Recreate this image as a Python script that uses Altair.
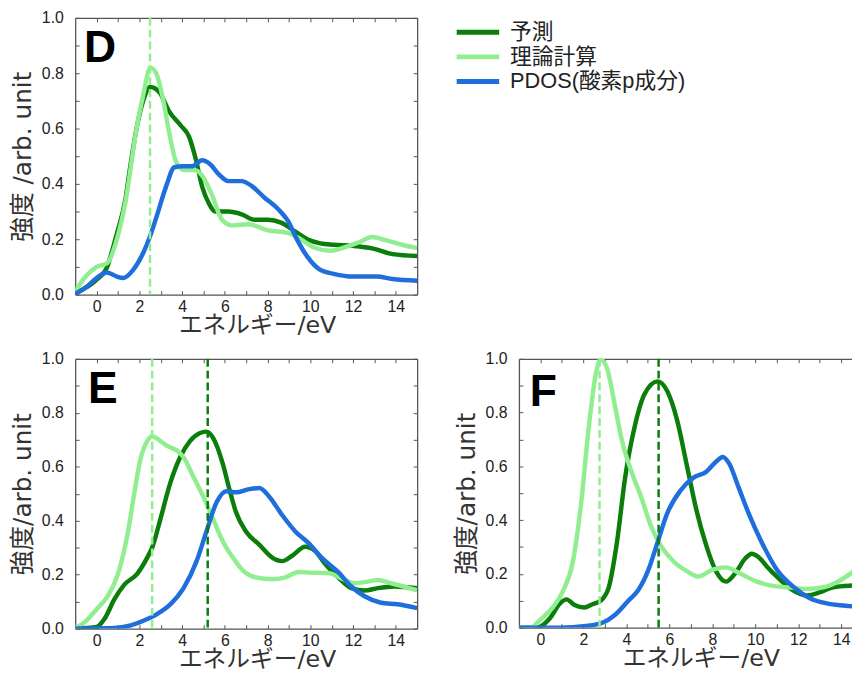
import altair as alt
import pandas as pd

SERIES = ["予測", "理論計算", "PDOS(酸素p成分)"]
COLORS = ["#0a7d0a", "#90ee90", "#1e6fdc"]
X_TITLE = "エネルギー/eV"
PANEL_LETTERS = ["D", "E", "F"]
Y_TITLES = ["強度 /arb. unit", "強度/arb. unit", "強度/arb. unit"]

# ---------- Panel D ----------
D_pred_x = [-1, 0, 0.5, 0.65, 0.95, 1.34, 1.57, 1.87, 2.18, 2.52, 2.95, 3.41, 3.95, 4.33, 4.64, 4.94, 5.25, 5.56, 6.17, 6.79, 7.4, 8.02, 8.63, 9.25, 9.86, 10.47, 11.09, 12.0, 12.9, 13.85, 15]
D_pred_y = [0.005, 0.054, 0.10, 0.137, 0.22, 0.34, 0.46, 0.60, 0.70, 0.75, 0.73, 0.66, 0.61, 0.57, 0.49, 0.39, 0.33, 0.30, 0.30, 0.29, 0.27, 0.27, 0.26, 0.23, 0.20, 0.185, 0.18, 0.176, 0.167, 0.146, 0.139]
D_theo_x = [-1, -0.51, 0, 0.49, 0.95, 1.34, 1.87, 2.18, 2.52, 2.79, 3.1, 3.41, 3.72, 4.1, 4.56, 4.94, 5.4, 5.87, 6.33, 7.1, 8.02, 8.94, 9.55, 10.17, 10.94, 11.7, 12.3, 12.9, 13.55, 14.3, 15]
D_theo_y = [0.012, 0.065, 0.10, 0.113, 0.20, 0.33, 0.60, 0.72, 0.82, 0.80, 0.71, 0.58, 0.48, 0.45, 0.45, 0.43, 0.36, 0.27, 0.25, 0.254, 0.232, 0.223, 0.20, 0.17, 0.158, 0.173, 0.19, 0.208, 0.196, 0.18, 0.168]
D_pdos_x = [-1, -0.43, 0, 0.49, 0.95, 1.26, 1.72, 2.18, 2.52, 2.8, 3.25, 3.64, 4.02, 4.48, 4.94, 5.33, 5.71, 6.17, 6.79, 7.25, 7.86, 8.48, 8.94, 9.4, 9.86, 10.47, 11.09, 12.0, 13.1, 13.85, 15]
D_pdos_y = [0.002, 0.03, 0.06, 0.08, 0.065, 0.06, 0.09, 0.15, 0.214, 0.28, 0.39, 0.46, 0.464, 0.464, 0.485, 0.47, 0.435, 0.41, 0.41, 0.393, 0.35, 0.31, 0.268, 0.196, 0.137, 0.089, 0.075, 0.065, 0.065, 0.056, 0.05]
D_rule_x = [2.5]
D_rule_s = ["理論計算"]

# ---------- Panel E ----------
E_pred_x = [-1, 0, 0.37, 0.83, 1.29, 1.91, 2.37, 2.6, 2.99, 3.45, 3.91, 4.37, 4.84, 5.14, 5.45, 5.91, 6.22, 6.53, 6.99, 7.61, 8.22, 8.69, 9.15, 9.76, 10.23, 10.69, 11.3, 11.92, 12.54, 13.15, 13.92, 15]
E_pred_y = [0.0, 0.006, 0.036, 0.108, 0.162, 0.204, 0.263, 0.30, 0.407, 0.54, 0.635, 0.695, 0.725, 0.73, 0.707, 0.61, 0.515, 0.43, 0.36, 0.311, 0.263, 0.25, 0.27, 0.303, 0.287, 0.24, 0.19, 0.15, 0.141, 0.15, 0.156, 0.15]
E_theo_x = [-1, -0.55, 0, 0.52, 0.99, 1.45, 1.76, 2.06, 2.37, 2.6, 2.99, 3.3, 3.76, 4.07, 4.53, 4.99, 5.45, 5.91, 6.38, 6.84, 7.45, 8.22, 8.84, 9.46, 10.07, 10.84, 11.46, 12.07, 12.69, 13.15, 13.77, 15]
E_theo_y = [0.002, 0.024, 0.072, 0.12, 0.20, 0.35, 0.50, 0.63, 0.695, 0.713, 0.695, 0.677, 0.66, 0.635, 0.563, 0.49, 0.407, 0.323, 0.263, 0.216, 0.19, 0.183, 0.19, 0.21, 0.207, 0.206, 0.186, 0.168, 0.174, 0.18, 0.168, 0.142]
E_pdos_x = [-1, 0.83, 1.6, 2.22, 2.83, 3.45, 4.07, 4.68, 5.14, 5.61, 6.07, 6.53, 7.15, 7.61, 8.07, 8.69, 9.3, 9.92, 10.53, 11.3, 11.92, 12.54, 13.31, 14.08, 15]
E_pdos_y = [0.0, 0.002, 0.012, 0.03, 0.054, 0.09, 0.15, 0.25, 0.36, 0.467, 0.509, 0.505, 0.517, 0.521, 0.49, 0.42, 0.36, 0.317, 0.263, 0.21, 0.156, 0.12, 0.096, 0.09, 0.076]
E_rule_x = [2.6, 5.2]
E_rule_s = ["理論計算", "予測"]

# ---------- Panel F ----------
F_pred_x = [-1, -0.15, 0.45, 0.91, 1.21, 1.59, 2.04, 2.42, 2.8, 3.18, 3.56, 3.94, 4.39, 4.84, 5.45, 5.9, 6.36, 6.81, 7.26, 7.72, 8.17, 8.63, 9.08, 9.53, 9.84, 10.14, 10.6, 11.05, 11.65, 12.41, 13.02, 13.62, 14.38, 15]
F_pred_y = [0.0, 0.0, 0.036, 0.09, 0.105, 0.084, 0.075, 0.087, 0.10, 0.15, 0.317, 0.557, 0.749, 0.868, 0.916, 0.88, 0.772, 0.605, 0.437, 0.305, 0.21, 0.171, 0.204, 0.257, 0.275, 0.263, 0.222, 0.186, 0.144, 0.12, 0.132, 0.15, 0.156, 0.157]
F_theo_x = [-1, -0.45, 0, 0.6, 1.06, 1.51, 1.89, 2.27, 2.57, 2.8, 3.1, 3.48, 3.78, 4.24, 4.69, 5.15, 5.6, 6.21, 6.81, 7.34, 8.02, 8.63, 9.23, 9.99, 10.75, 11.5, 12.41, 13.17, 13.77, 14.38, 15]
F_theo_y = [0.0, 0.0, 0.03, 0.078, 0.138, 0.245, 0.46, 0.76, 0.94, 0.998, 0.964, 0.82, 0.70, 0.58, 0.485, 0.377, 0.305, 0.245, 0.21, 0.19, 0.216, 0.224, 0.204, 0.174, 0.156, 0.15, 0.144, 0.15, 0.168, 0.198, 0.24]
F_pdos_x = [-1, 0.91, 2.12, 2.88, 3.48, 4.09, 4.54, 5.0, 5.45, 5.9, 6.51, 7.11, 7.72, 8.17, 8.48, 8.78, 9.23, 9.69, 10.3, 11.05, 11.8, 12.56, 13.32, 14.38, 15]
F_pdos_y = [0.0, 0.0, 0.006, 0.018, 0.048, 0.10, 0.138, 0.21, 0.317, 0.425, 0.509, 0.557, 0.58, 0.617, 0.635, 0.611, 0.52, 0.425, 0.317, 0.21, 0.15, 0.108, 0.09, 0.08, 0.077]
F_rule_x = [2.75, 5.5]
F_rule_s = ["理論計算", "予測"]

FONT = "Liberation Sans, Noto Sans CJK JP"
TFONT = "DejaVu Sans, Noto Sans CJK JP"
FRAME = "#555555"
TEXT = "#222222"


def lines_df(xs_ys):
    rows = []
    for s, (xs, ys) in zip(SERIES, xs_ys):
        for x, y in zip(xs, ys):
            rows.append({"x": x, "y": y, "series": s})
    return pd.DataFrame(rows)


def panel(xs_ys, rule_x, rule_s, letter, ytitle, width, height, xmax, lx, ly,
          legend, open_right):
    df = lines_df(xs_ys)
    cmap = dict(zip(SERIES, COLORS))
    rdf = pd.DataFrame({"x": rule_x, "c": [cmap[s] for s in rule_s]})
    xs = alt.Scale(domain=[-1, xmax], nice=False, zero=False)
    ys = alt.Scale(domain=[0, 1], nice=False, zero=False)
    common = dict(tickSize=4, offset=-4, domain=False, grid=False, tickColor=FRAME,
                  tickWidth=1)
    xvals = list(range(0, 15))
    yvals = [i / 10 for i in range(11)]
    xb = alt.Axis(orient="bottom", values=xvals,
                  labelExpr="datum.value % 2 == 0 ? datum.label : ''",
                  labelFont=FONT, labelFontSize=16, labelColor=TEXT, labelPadding=4,
                  title=X_TITLE, titleFont=TFONT, titleFontSize=24, titleFontWeight="normal",
                  titleColor="#333333", titlePadding=-1, titleX=184, **common)
    yl = alt.Axis(orient="left", values=yvals,
                  labelExpr="round(datum.value*10) % 2 == 0 ? format(datum.value, '.1f') : ''",
                  labelFont=FONT, labelFontSize=16, labelColor=TEXT, labelPadding=12,
                  title=ytitle, titleFont=TFONT, titleFontSize=25, titleFontWeight="normal",
                  titleColor="#333333", titlePadding=6, **common)
    xt = alt.Axis(orient="top", values=xvals, labels=False, title=None, **common)
    yr = alt.Axis(orient="right", values=yvals, labels=False, title=None, **common)
    fr = dict(domain=True, ticks=False, labels=False, title=None, grid=False,
              domainColor=FRAME, domainWidth=1.3)

    if legend:
        leg = alt.Legend(orient="none", legendX=394, legendY=1, title=None,
                         symbolType="M-2,0L2,0", symbolSize=462, symbolStrokeWidth=5,
                         labelFont=FONT, labelFontSize=22, labelColor=TEXT, labelLimit=0,
                         labelOffset=19, rowPadding=-2, padding=0)
        color = alt.Color("series:N", scale=alt.Scale(domain=SERIES, range=COLORS), legend=leg)
    else:
        color = alt.Color("series:N", scale=alt.Scale(domain=SERIES, range=COLORS), legend=None)

    lines = alt.Chart(df).mark_line(strokeWidth=4.5, interpolate="monotone", clip=True).encode(
        x=alt.X("x:Q", scale=xs, axis=xb),
        y=alt.Y("y:Q", scale=ys, axis=yl),
        color=color,
    )
    mirror = alt.Chart(df).mark_point(opacity=0, clip=True).encode(
        x=alt.X("x:Q", scale=xs, axis=xt),
        y=alt.Y("y:Q", scale=ys, axis=None if open_right else yr),
    )
    frame1 = alt.Chart(df).mark_point(opacity=0, clip=True).encode(
        x=alt.X("x:Q", scale=xs, axis=alt.Axis(orient="bottom", **fr)),
        y=alt.Y("y:Q", scale=ys, axis=alt.Axis(orient="left", **fr)),
    )
    frame2 = alt.Chart(df).mark_point(opacity=0, clip=True).encode(
        x=alt.X("x:Q", scale=xs, axis=alt.Axis(orient="top", **fr)),
        y=alt.Y("y:Q", scale=ys, axis=None if open_right else alt.Axis(orient="right", **fr)),
    )
    rules = alt.Chart(rdf).mark_rule(strokeDash=[8, 4], strokeWidth=2.5).encode(
        x=alt.X("x:Q", scale=xs, axis=None),
        color=alt.Color("c:N", scale=None),
    )
    label = alt.Chart(pd.DataFrame({"t": [letter]})).mark_text(
        font="Liberation Sans", fontSize=45, fontWeight="bold", align="left",
        baseline="alphabetic", color="#000000",
    ).encode(text="t:N", x=alt.value(lx), y=alt.value(ly))
    return alt.layer(lines, mirror, frame1, frame2, rules, label).resolve_axis(
        x="independent", y="independent"
    ).properties(width=width, height=height)


pD = panel([(D_pred_x, D_pred_y), (D_theo_x, D_theo_y), (D_pdos_x, D_pdos_y)],
           D_rule_x, D_rule_s, PANEL_LETTERS[0], Y_TITLES[0], 346, 280, 15, 9, 45,
           True, False)
pE = panel([(E_pred_x, E_pred_y), (E_theo_x, E_theo_y), (E_pdos_x, E_pdos_y)],
           E_rule_x, E_rule_s, PANEL_LETTERS[1], Y_TITLES[1], 346, 273, 15, 13, 45,
           False, False)
pF = panel([(F_pred_x, F_pred_y), (F_theo_x, F_theo_y), (F_pdos_x, F_pdos_y)],
           F_rule_x, F_rule_s, PANEL_LETTERS[2], Y_TITLES[2], 337, 272, 14.5, 11, 48,
           False, True)

chart = alt.vconcat(
    pD,
    alt.hconcat(pE, pF, spacing=36),
    spacing=14,
).resolve_scale(color="independent").properties(
    padding={"left": 2, "top": -2, "right": 0, "bottom": 0}
).configure_view(stroke=None)

chart.save("out.html", embed_options={"renderer": "svg", "actions": False})
